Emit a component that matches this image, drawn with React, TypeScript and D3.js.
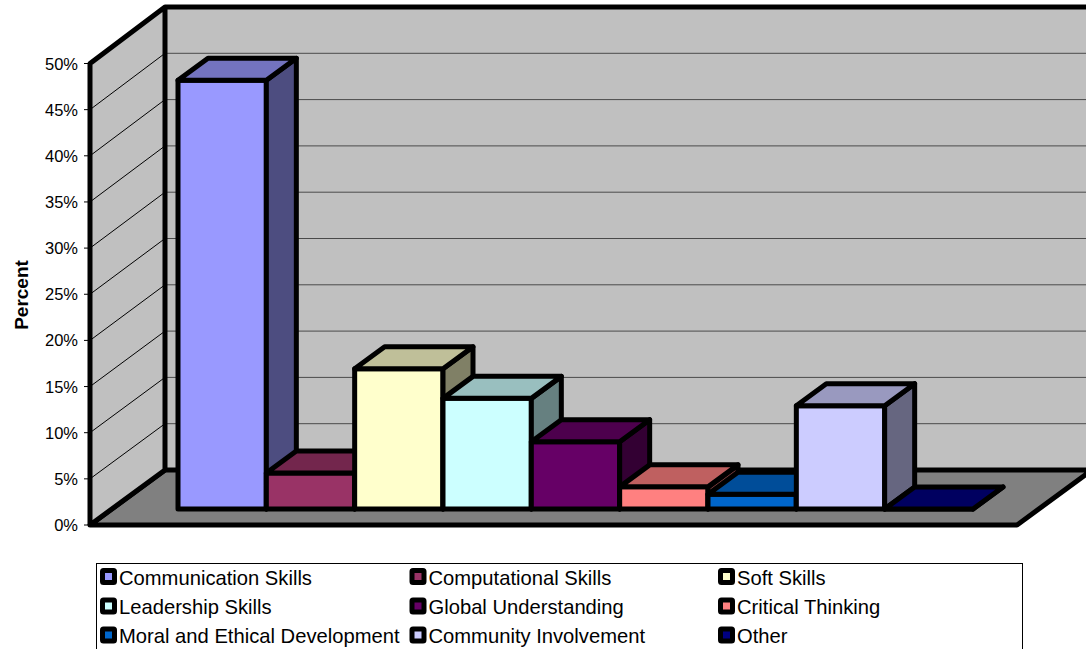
import React from "react";
import * as d3 from "d3";

const categories = [
  "Communication Skills",
  "Computational Skills",
  "Soft Skills",
  "Leadership Skills",
  "Global Understanding",
  "Critical Thinking",
  "Moral and Ethical Development",
  "Community Involvement",
  "Other",
];
const percents = [46.5, 3.9, 15.2, 12.0, 7.3, 2.4, 1.6, 11.2, 0];
const colors = ["#9999FF", "#993366", "#FFFFCC", "#CCFFFF", "#660066", "#FF8080", "#0066CC", "#CCCCFF", "#000080"];
const axisTicks = [0, 5, 10, 15, 20, 25, 30, 35, 40, 45, 50];

const W = 1086;
const H = 649;
const FONT = "'Liberation Sans', Arial, sans-serif";

// Oblique projection: front wall edge, then offsets for the room and for the bars.
const axisY = d3.scaleLinear().domain([0, 50]).range([525, 63.5]);
const backY = d3.scaleLinear().domain([0, 50]).range([470, 7]);
const barY = d3.scaleLinear().domain([0, 50]).range([509, 48]);
const barX = d3.scaleBand<string>().domain(categories).range([178, 973]).padding(0);
const roomDx = 75;
const barDx = 30;
const barDy = 22;
const axisX = 90;
const backX = axisX + roomDx;
const floorRight = 1017;
const EDGE = 5;

const poly = (pts: [number, number][]) => d3.line()(pts) + "Z";
const shade = (c: string, k: number) => {
  const r = d3.rgb(c);
  return d3.rgb(r.r * k, r.g * k, r.b * k).formatHex();
};

const legendCols = [100, 409.5, 718];
const legendRows = [576.5, 606, 635];

export default function App() {
  return (
    <svg
      width={W}
      height={H}
      viewBox={`0 0 ${W} ${H}`}
      style={{ position: "fixed", left: 0, top: 0, background: "#fff" }}
      fontFamily={FONT}
    >
      {/* Back wall, side wall and floor */}
      <path d={poly([[backX, 7], [W + 10, 7], [W + 10, 470], [backX, 470]])} fill="#C0C0C0" />
      {axisTicks.slice(1, -1).map((t) => (
        <line key={t} x1={backX} x2={W} y1={backY(t)} y2={backY(t)} stroke="#4a4a4a" strokeWidth={1} />
      ))}
      <path
        d={poly([[axisX, axisY(0)], [backX, 470], [floorRight + roomDx, 470], [floorRight, axisY(0)]])}
        fill="#808080"
        stroke="#000"
        strokeWidth={EDGE}
        strokeLinejoin="round"
      />
      <path
        d={poly([[axisX, axisY(50)], [backX, 7], [backX, 470], [axisX, axisY(0)]])}
        fill="#C0C0C0"
      />
      {axisTicks.slice(1, -1).map((t) => (
        <line key={t} x1={axisX} x2={backX} y1={axisY(t)} y2={backY(t)} stroke="#000" strokeWidth={1} />
      ))}
      <path
        d={`M${axisX},${axisY(0)}V${axisY(50)}L${backX},7H${W + 10}M${backX},7V470L${axisX},${axisY(0)}`}
        fill="none"
        stroke="#000"
        strokeWidth={EDGE}
        strokeLinejoin="round"
      />

      {/* Value axis */}
      {axisTicks.map((t) => (
        <g key={t}>
          <line x1={axisX - 6} x2={axisX} y1={axisY(t)} y2={axisY(t)} stroke="#000" strokeWidth={1} />
          <text x={78} y={axisY(t) + 6} fontSize={16.5} textAnchor="end" fill="#000">
            {t}%
          </text>
        </g>
      ))}
      <text
        transform="translate(28,295) rotate(-90)"
        fontSize={19}
        fontWeight="bold"
        textAnchor="middle"
        fill="#000"
      >
        Percent
      </text>

      {/* Bars, left to right so that later ones overlap earlier ones */}
      {categories.map((c, i) => {
        const x0 = barX(c)!;
        const x1 = x0 + barX.bandwidth();
        const y0 = barY(0);
        const y1 = barY(percents[i]);
        const stroke = { stroke: "#000", strokeWidth: EDGE, strokeLinejoin: "round" as const };
        return (
          <g key={c}>
            <path d={poly([[x0, y1], [x1, y1], [x1, y0], [x0, y0]])} fill={colors[i]} {...stroke} />
            <path
              d={poly([[x1, y1], [x1 + barDx, y1 - barDy], [x1 + barDx, y0 - barDy], [x1, y0]])}
              fill={shade(colors[i], 0.5)}
              {...stroke}
            />
            <path
              d={poly([[x0, y1], [x0 + barDx, y1 - barDy], [x1 + barDx, y1 - barDy], [x1, y1]])}
              fill={shade(colors[i], 0.75)}
              {...stroke}
            />
          </g>
        );
      })}

      {/* Legend, cut off by the bottom of the page */}
      <rect x={96.5} y={563.5} width={926} height={100} fill="#fff" stroke="#000" strokeWidth={1} />
      {categories.map((c, i) => {
        const col = legendCols[i % 3];
        const row = legendRows[Math.floor(i / 3)];
        return (
          <g key={c}>
            <rect
              x={col + 2.5}
              y={row - 6}
              width={12}
              height={12}
              rx={1}
              fill={colors[i]}
              stroke="#000"
              strokeWidth={EDGE}
              strokeLinejoin="round"
            />
            <text x={col + 19} y={row + 8} fontSize={20.2} fill="#000">
              {c}
            </text>
          </g>
        );
      })}
    </svg>
  );
}
